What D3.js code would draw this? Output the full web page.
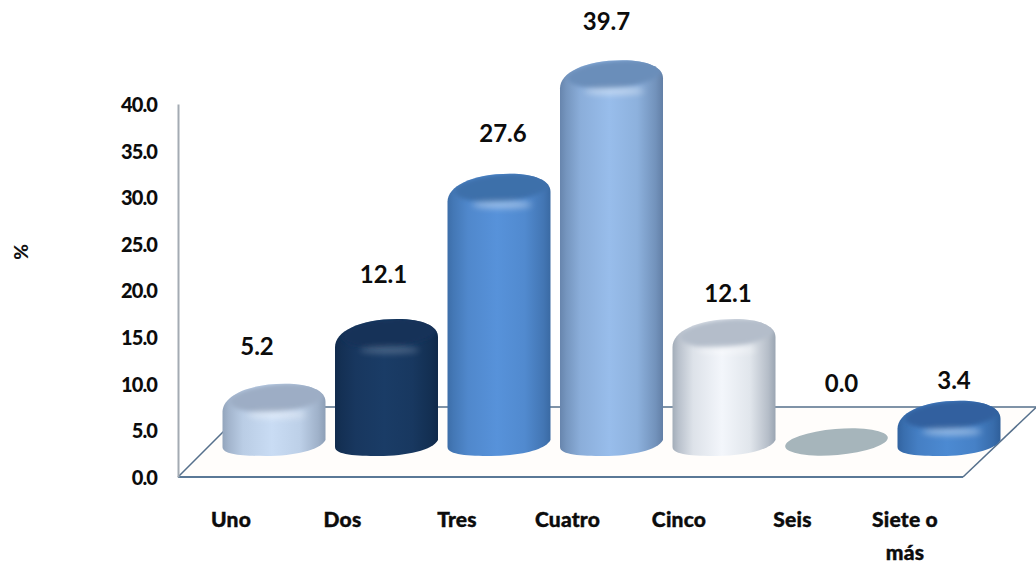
<!DOCTYPE html>
<html><head><meta charset="utf-8">
<script src="https://cdn.jsdelivr.net/npm/d3@7/dist/d3.min.js"></script>
<style>html,body{margin:0;background:#fff;overflow:hidden}svg{display:block}</style>
</head><body><svg id="c" width="1036" height="564"></svg>
<script>
const categories = ["Uno","Dos","Tres","Cuatro","Cinco","Seis","Siete o más"];
const values = [5.2,12.1,27.6,39.7,12.1,0.0,3.4];
const yTicks = [0,5,10,15,20,25,30,35,40];
const edgeColors = ["#8d9fb6","#10294a","#3a6aa3","#627fa6","#9aa5b2","#a6b5bb","#2f5f9a"];
const midColors = ["#c9dcf4","#1a3c66","#5792da","#98bdeb","#f3f6fb","#a6b5bb","#4c8ad2"];
const capColors = ["#9dadc5","#143159","#3d70aa","#6b8eba","#b4bdca","#a6b5bb","#31619f"];
const labelLift = [37,45,40,39,26,44,20];
const labelShift = [-17,-3,4,-5,4,5,5];
const tickShift = [-43,-44,-42,-44,-45,-44,-44];

const svg = d3.select("#c");
const defs = svg.append("defs");
defs.append("filter").attr("id","b3").attr("x","-50%").attr("y","-200%").attr("width","200%").attr("height","500%").append("feGaussianBlur").attr("stdDeviation",3);
defs.append("filter").attr("id","b1").attr("x","-20%").attr("y","-30%").attr("width","140%").attr("height","160%").append("feGaussianBlur").attr("stdDeviation",2.2);
const font = "Lato,sans-serif";

const yAxisScale = d3.scaleLinear().domain([0,40]).range([477,104]);
const barTop = d3.scaleLinear().domain([0,40]).range([449.6,74.4]);
const x = d3.scaleBand().domain(categories).range([217.75,1005.25]);
const rx = 51.5, ry = 17, tilt = -5;

// floor
svg.append("path").attr("d","M178,477 L963,477 L1036,407 L248,407 Z").attr("fill","#fffdfb");
svg.append("path").attr("d","M178,477 L248,407 L1036,407").attr("fill","none").attr("stroke","#56708c").attr("stroke-width",1.5);
svg.append("path").attr("d","M963,477 L1036,407.5").attr("fill","none").attr("stroke","#56708c").attr("stroke-width",1.5);
svg.append("path").attr("d","M178,477 L963,477").attr("fill","none").attr("stroke","#5a7896").attr("stroke-width",2);

// axis
const ax = svg.append("g").attr("transform","translate(178,1)")
  .call(d3.axisLeft(yAxisScale).tickValues(yTicks).tickSize(0).tickPadding(21).tickFormat(d3.format(".1f")));
ax.select(".domain").attr("stroke","#a4abb3").attr("stroke-width",2).attr("transform","translate(0,-1)");
ax.selectAll("text").attr("font-family",font).attr("font-weight",900).attr("font-size",20).attr("fill","#0c0c0c").attr("letter-spacing","-0.9");

svg.append("text").text("%").attr("transform","translate(21,252) rotate(-90)").attr("text-anchor","middle").attr("dy","0.35em")
  .attr("font-family",font).attr("font-weight",900).attr("font-size",19).attr("fill","#111");

// gradients
categories.forEach((c,i)=>{
  const g = defs.append("linearGradient").attr("id","g"+i);
  const mix = d3.interpolateRgb(edgeColors[i],midColors[i]);
  [[0,mix(0.1)],[0.06,mix(0.35)],[0.2,mix(0.75)],[0.48,midColors[i]],[0.75,mix(0.8)],[0.93,mix(0.3)],[1,edgeColors[i]]]
    .forEach(s=>g.append("stop").attr("offset",s[0]).attr("stop-color",s[1]));
});

const outline = t => `M${-rx},${t+11} C${-rx},${t-4} -28,${t-ry} 11,${t-ry} C36,${t-ry} ${rx},${t-10} ${rx},${t+1} L${rx},440 C${rx-5},450 20,456 -8,456 C-30,456 ${-rx},455 ${-rx},447 Z`;

// bars
const bars = svg.selectAll("g.bar").data(values).join("g").attr("class","bar")
  .attr("transform",(d,i)=>`translate(${x(categories[i])+x.bandwidth()/2},0)`);
bars.each(function(v,i){
  const g = d3.select(this);
  if(v===0){
    g.append("ellipse").attr("cx",0).attr("cy",442).attr("rx",rx).attr("ry",13)
      .attr("transform",`rotate(${tilt} 0 442)`).attr("fill",capColors[i]);
    return;
  }
  const t = barTop(v);
  defs.append("clipPath").attr("id","clip"+i).append("path").attr("d",outline(t));
  g.append("path").attr("d",outline(t)).attr("fill",`url(#g${i})`);
  const inner = g.append("g").attr("clip-path",`url(#clip${i})`);
  inner.append("ellipse").attr("cx",3).attr("cy",t-3).attr("rx",rx-4).attr("ry",ry-3)
    .attr("transform",`rotate(${tilt} 3 ${t-3})`).attr("fill",capColors[i]).attr("filter","url(#b1)");
  inner.append("ellipse").attr("cx",3).attr("cy",t+14).attr("rx",30).attr("ry",3.5)
    .attr("fill","#fff").attr("opacity",i===1?0.22:0.42).attr("filter","url(#b3)");
});

// value labels
svg.selectAll("text.val").data(values).join("text").attr("class","val")
  .attr("x",(d,i)=>x(categories[i])+x.bandwidth()/2+labelShift[i])
  .attr("y",(d,i)=>(d===0?428:barTop(d)-ry)-labelLift[i])
  .attr("dy","0.35em").attr("text-anchor","middle").text(d=>d.toFixed(1))
  .attr("font-family",font).attr("font-weight",700).attr("font-size",24).attr("fill","#0c0c0c");

// category labels
categories.forEach((c,i)=>{
  const cx = x(c)+x.bandwidth()/2+tickShift[i];
  const words = c==="Siete o más" ? ["Siete o","más"] : [c];
  words.forEach((w,k)=>svg.append("text").attr("class","cat").attr("x",cx).attr("y",520+k*33).attr("dy","0.35em")
    .attr("text-anchor","middle").text(w)
    .attr("font-family",font).attr("font-weight",900).attr("font-size",21).attr("letter-spacing","0.2")
    .attr("stroke","#0c0c0c").attr("stroke-width",0.4).attr("fill","#0c0c0c"));
});
</script></body></html>
